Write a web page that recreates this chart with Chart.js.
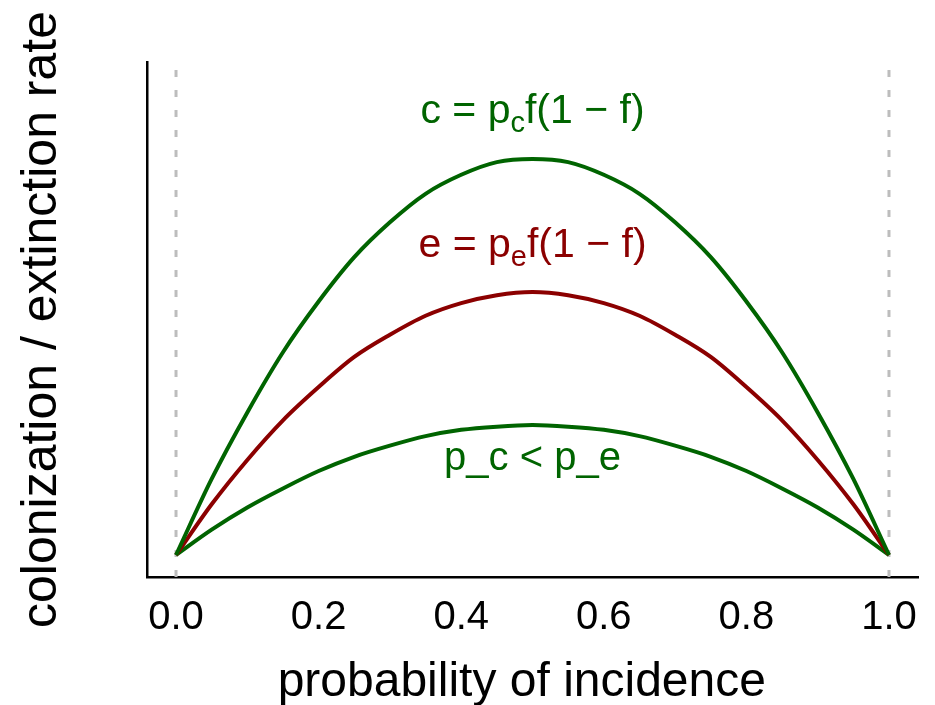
<!DOCTYPE html>
<html>
<head>
<meta charset="utf-8">
<script src="https://cdn.jsdelivr.net/npm/chart.js@4"></script>
<style>
  html, body { margin: 0; padding: 0; background: #fff; }
  #wrap { width: 935px; height: 705px; }
</style>
</head>
<body>
<div id="wrap"><canvas id="rateChart" width="935" height="705"></canvas></div>
<script>
// dữ liệu: xác suất xuất hiện f và các tốc độ
const fVals = [0, 0.05, 0.1, 0.15, 0.2, 0.25, 0.3, 0.35, 0.4, 0.45, 0.5,
               0.55, 0.6, 0.65, 0.7, 0.75, 0.8, 0.85, 0.9, 0.95, 1];
const colonHigh = [0, 0.048, 0.090, 0.128, 0.160, 0.188, 0.210, 0.228, 0.240, 0.248, 0.250,
                   0.248, 0.240, 0.228, 0.210, 0.188, 0.160, 0.128, 0.090, 0.048, 0];
const extinction = [0, 0.032, 0.060, 0.085, 0.106, 0.125, 0.139, 0.151, 0.159, 0.164, 0.166,
                    0.164, 0.159, 0.151, 0.139, 0.125, 0.106, 0.085, 0.060, 0.032, 0];
const colonLow = [0, 0.016, 0.030, 0.042, 0.053, 0.062, 0.069, 0.075, 0.079, 0.081, 0.082,
                  0.081, 0.079, 0.075, 0.069, 0.062, 0.053, 0.042, 0.030, 0.016, 0];
const xTicks = [0, 0.2, 0.4, 0.6, 0.8, 1.0];
const vLines = [0, 1];

const X_MIN = -0.0407, X_MAX = 1.0407;
const Y_MIN = -0.0139, Y_MAX = 0.3112;

const GREEN = '#006400';
const RED = '#8b0000';
const FONT = '"Liberation Sans", Arial, sans-serif';

function toPoints(ys) {
    return fVals.map((f, i) => ({ x: f, y: ys[i] }));
}

function curve(ys, color) {
    return {
        data: toPoints(ys),
        borderColor: color,
        borderWidth: 4,
        pointRadius: 0,
        cubicInterpolationMode: 'monotone',
        fill: false
    };
}

const datasets = [curve(colonHigh, GREEN), curve(extinction, RED), curve(colonLow, GREEN)];
// đường đứng nét đứt tại f = 0 và f = 1
vLines.forEach(v => {
    datasets.push({
        data: [{ x: v, y: Y_MIN }, { x: v, y: Y_MAX }],
        borderColor: '#bdbdbd',
        borderWidth: 3,
        borderDash: [7, 13],
        pointRadius: 0,
        fill: false
    });
});

// vẽ chữ có chỉ số dưới (p_c, p_e)
function drawRich(ctx, parts, cx, baseY, color) {
    let total = 0;
    parts.forEach(p => {
        ctx.font = p.size + 'px ' + FONT;
        p.w = ctx.measureText(p.t).width;
        total += p.w;
    });
    let x = cx - total / 2;
    ctx.fillStyle = color;
    ctx.textAlign = 'left';
    ctx.textBaseline = 'alphabetic';
    parts.forEach(p => {
        ctx.font = p.size + 'px ' + FONT;
        ctx.fillText(p.t, x, baseY + (p.dy || 0));
        x += p.w;
    });
}

const labelPlugin = {
    id: 'formulaLabels',
    afterDatasetsDraw(chart) {
        const ctx = chart.ctx;
        const xs = chart.scales.x, ys = chart.scales.y;
        const cx = xs.getPixelForValue(0.5);
        ctx.save();
        drawRich(ctx, [
            { t: 'c = p', size: 41 },
            { t: 'c', size: 29, dy: 9 },
            { t: 'f(1 \u2212 f)', size: 41 }
        ], cx, ys.getPixelForValue(0.2727), GREEN);
        drawRich(ctx, [
            { t: 'e = p', size: 41 },
            { t: 'e', size: 29, dy: 9 },
            { t: 'f(1 \u2212 f)', size: 41 }
        ], cx, ys.getPixelForValue(0.1881), RED);
        drawRich(ctx, [
            { t: 'p_c < p_e', size: 40 }
        ], cx, ys.getPixelForValue(0.0537), GREEN);

        // tiêu đề trục x, hơi lệch trái như hình gốc
        ctx.fillStyle = '#000';
        ctx.font = '48px ' + FONT;
        ctx.textAlign = 'center';
        ctx.textBaseline = 'alphabetic';
        ctx.fillText('probability of incidence', xs.getPixelForValue(0.485), chart.height - 9);
        ctx.restore();
    }
};

const ctx = document.getElementById('rateChart').getContext('2d');
new Chart(ctx, {
    type: 'line',
    data: { datasets: datasets },
    plugins: [labelPlugin],
    options: {
        responsive: false,
        animation: false,
        layout: { padding: { left: 0, top: 62, right: 17, bottom: 0 } },
        plugins: { legend: { display: false }, tooltip: { enabled: false } },
        scales: {
            x: {
                type: 'linear',
                min: X_MIN,
                max: X_MAX,
                afterBuildTicks: s => { s.ticks = xTicks.map(v => ({ value: v })); },
                afterFit: s => { s.height = 128; },
                grid: { display: false, drawTicks: true, tickLength: 8 },
                border: { display: true, color: '#000', width: 2.5 },
                ticks: {
                    color: '#000',
                    padding: 9,
                    maxRotation: 0,
                    font: { family: FONT, size: 40 },
                    callback: v => Number(v).toFixed(1)
                },
                title: { display: false }
            },
            y: {
                type: 'linear',
                min: Y_MIN,
                max: Y_MAX,
                afterFit: s => { s.width = 147; },
                grid: { display: false },
                border: { display: true, color: '#000', width: 2.5 },
                ticks: { display: false },
                title: {
                    display: true,
                    text: 'colonization / extinction rate',
                    color: '#000',
                    font: { family: FONT, size: 50, lineHeight: 1.1 },
                    padding: { top: 15, bottom: 0 }
                }
            }
        }
    }
});
</script>
</body>
</html>
